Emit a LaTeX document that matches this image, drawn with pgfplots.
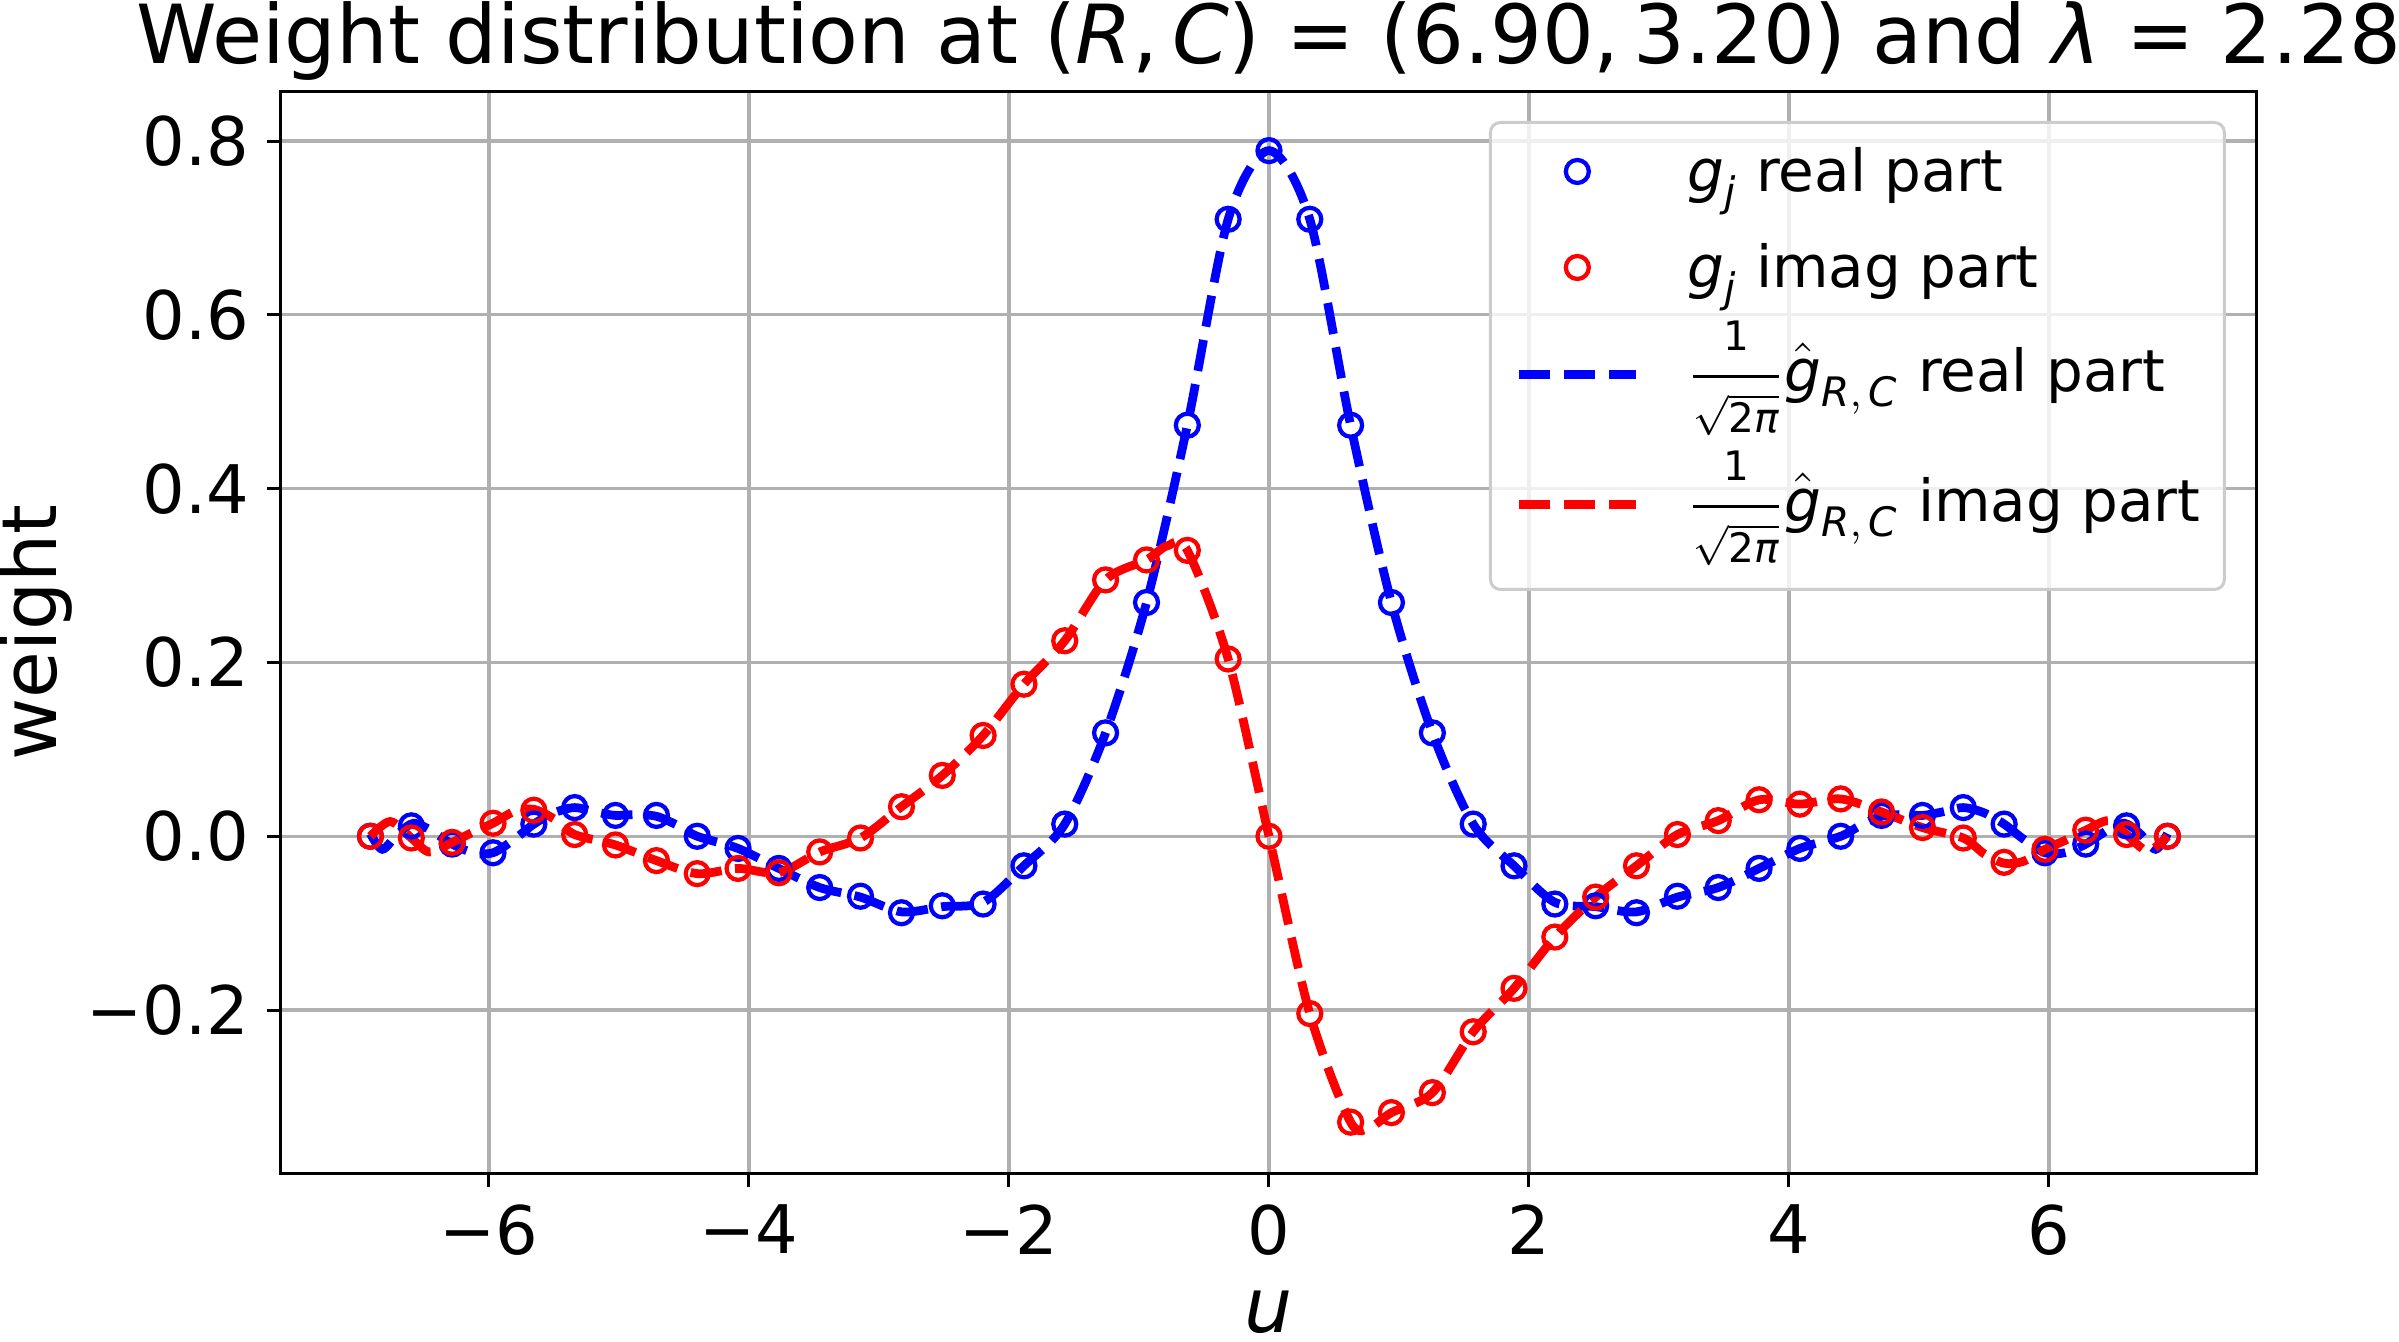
\documentclass[border=0pt]{standalone}
\usepackage{fontspec}
\setmainfont{DejaVu Sans}
\usepackage{amsmath}
\usepackage{pgfplots}
\usepackage{pgfplotstable}
\pgfplotsset{compat=1.18}
\definecolor{gridgray}{HTML}{B0B0B0}
\definecolor{legendgray}{HTML}{CCCCCC}
\pgfplotsset{
  markleg/.style={legend image code/.code={\draw[mark repeat=2,mark phase=2,##1] plot coordinates {(0pt,0pt) (11.7pt,0pt) (23.4pt,0pt)};}},
  lineleg/.style={legend image code/.code={\draw[##1] (0pt,0pt) -- (23.4pt,0pt);}},
}
\newcommand{\gfrac}{\dfrac{\scriptstyle\text{1}}{\scriptstyle\sqrt{\text{2}\textit{π}}}\hat{\textit{g}}_{\textit{R},\,\textit{C}}}

\pgfplotstableread{
u v
-6.912 0.000
-6.597 0.012
-6.283 -0.009
-5.969 -0.019
-5.655 0.014
-5.341 0.033
-5.027 0.024
-4.712 0.024
-4.398 0.000
-4.084 -0.014
-3.770 -0.037
-3.456 -0.059
-3.142 -0.069
-2.827 -0.088
-2.513 -0.080
-2.199 -0.078
-1.885 -0.034
-1.571 0.014
-1.257 0.119
-0.942 0.269
-0.628 0.473
-0.314 0.710
0.000 0.789
0.314 0.710
0.628 0.473
0.942 0.269
1.257 0.119
1.571 0.014
1.885 -0.034
2.199 -0.078
2.513 -0.080
2.827 -0.088
3.142 -0.069
3.456 -0.059
3.770 -0.037
4.084 -0.014
4.398 0.000
4.712 0.024
5.027 0.024
5.341 0.033
5.655 0.014
5.969 -0.019
6.283 -0.009
6.597 0.012
6.912 0.000
}\realpts

\pgfplotstableread{
u v
-6.912 0.000
-6.597 -0.002
-6.283 -0.007
-5.969 0.015
-5.655 0.030
-5.341 0.002
-5.027 -0.010
-4.712 -0.028
-4.398 -0.043
-4.084 -0.037
-3.770 -0.042
-3.456 -0.018
-3.142 -0.002
-2.827 0.034
-2.513 0.070
-2.199 0.116
-1.885 0.175
-1.571 0.225
-1.257 0.295
-0.942 0.318
-0.628 0.329
-0.314 0.204
0.000 0.000
0.314 -0.204
0.628 -0.329
0.942 -0.318
1.257 -0.295
1.571 -0.225
1.885 -0.175
2.199 -0.116
2.513 -0.070
2.827 -0.034
3.142 0.002
3.456 0.018
3.770 0.042
4.084 0.037
4.398 0.043
4.712 0.028
5.027 0.010
5.341 -0.002
5.655 -0.030
5.969 -0.015
6.283 0.007
6.597 0.002
6.912 0.000
}\imagpts

\pgfplotstableread{
u v
-6.912 0.003
-6.82 -0.015
-6.70 0.003
-6.58 0.015
-6.45 0.007
-6.283 -0.009
-6.12 -0.019
-5.969 -0.019
-5.81 -0.004
-5.655 0.014
-5.50 0.027
-5.341 0.033
-5.18 0.028
-5.027 0.024
-4.87 0.025
-4.712 0.023
-4.555 0.013
-4.398 0.000
-4.084 -0.014
-3.770 -0.037
-3.456 -0.059
-3.142 -0.070
-2.827 -0.087
-2.513 -0.081
-2.199 -0.076
-1.885 -0.034
-1.571 0.014
-1.257 0.119
-0.942 0.269
-0.628 0.473
-0.314 0.710
0.000 0.789
0.314 0.710
0.628 0.473
0.942 0.269
1.257 0.119
1.571 0.014
1.885 -0.034
2.199 -0.076
2.513 -0.081
2.827 -0.087
3.142 -0.070
3.456 -0.059
3.770 -0.037
4.084 -0.014
4.398 0.000
4.555 0.013
4.712 0.023
4.87 0.025
5.027 0.024
5.18 0.028
5.341 0.033
5.50 0.027
5.655 0.014
5.81 -0.004
5.969 -0.019
6.12 -0.019
6.283 -0.009
6.45 0.007
6.58 0.015
6.70 0.003
6.82 -0.015
6.912 0.003
}\realcurve

\pgfplotstableread{
u v
-6.912 0.000
-6.76 0.017
-6.597 -0.002
-6.46 -0.018
-6.283 -0.007
-6.12 0.005
-5.969 0.015
-5.80 0.029
-5.655 0.031
-5.50 0.020
-5.341 0.002
-5.027 -0.010
-4.712 -0.028
-4.398 -0.043
-4.084 -0.037
-3.770 -0.042
-3.456 -0.018
-3.142 -0.002
-2.827 0.034
-2.513 0.070
-2.199 0.116
-1.885 0.175
-1.571 0.225
-1.257 0.295
-0.942 0.318
-0.785 0.334
-0.628 0.329
-0.314 0.204
0.000 0.000
0.314 -0.204
0.628 -0.329
0.785 -0.334
0.942 -0.318
1.257 -0.295
1.571 -0.225
1.885 -0.175
2.199 -0.116
2.513 -0.070
2.827 -0.034
3.142 0.002
3.456 0.018
3.770 0.042
4.084 0.037
4.398 0.043
4.712 0.028
5.027 0.010
5.341 -0.002
5.50 -0.020
5.655 -0.031
5.80 -0.029
5.969 -0.015
6.12 -0.005
6.283 0.007
6.46 0.018
6.597 0.002
6.76 -0.017
6.912 0.000
}\imagcurve

\begin{document}
\begin{tikzpicture}
\begin{axis}[
  name=ax, at={(0,0)}, anchor=south west,
  scale only axis, width=395.2pt, height=216.2pt,
  xmin=-7.6, xmax=7.6, ymin=-0.3875, ymax=0.8565,
  xtick={-6,-4,-2,0,2,4,6},
  xticklabels={−6,−4,−2,0,2,4,6},
  ytick={-0.2,0,0.2,0.4,0.6,0.8},
  yticklabels={−0.2,0.0,0.2,0.4,0.6,0.8},
  grid=major, grid style={color=gridgray, line width=0.65pt},
  axis line style={line width=0.6pt},
  tick align=outside, tick pos=left, major tick length=2.8pt,
  tick style={line width=0.6pt, black},
  ticklabel style={font=\fontsize{13.4}{16}\selectfont},
  xlabel={\textit{u}}, ylabel={weight},
  every axis x label/.style={at={(axis description cs:0.5,-0.148)}, anchor=base, inner sep=0pt, font=\fontsize{15.2}{18}\selectfont},
  every axis y label/.style={at={(axis description cs:-0.1134,0.5)}, rotate=90, anchor=base, font=\fontsize{15.2}{18}\selectfont},
  title={Weight distribution at (\textit{R},\,\textit{C}) = (6.90,\,3.20) and \textit{λ} = 2.28},
  every axis title/.style={at={(axis description cs:0.5,1.0268)}, anchor=base, inner sep=0pt, font=\fontsize{16.3}{19}\selectfont},
  legend cell align=left,
  legend style={at={(axis description cs:1,1)}, anchor=north east, xshift=-6.2pt, yshift=-5.8pt,
    draw=legendgray, line width=0.6pt, rounded corners=2pt, fill=white, fill opacity=0.8, text opacity=1,
    font=\fontsize{11.6}{14}\selectfont, inner xsep=4.8pt, inner ysep=1.5pt, row sep=0pt,
    nodes={inner sep=0pt},
    /tikz/every odd column/.append style={column sep=9.4pt}},
]
\addplot[only marks, mark=o, color=blue, mark size=2.3pt, mark options={line width=0.85pt, solid}, markleg]
  table[x=u,y=v] {\realpts};
\addlegendentry[text height=12.3pt, text depth=4.3pt]{$\textit{g}_{\textit{j}}$ real part}
\addplot[only marks, mark=o, color=red, mark size=2.3pt, mark options={line width=0.85pt, solid}, markleg]
  table[x=u,y=v] {\imagpts};
\addlegendentry[text height=14.9pt, text depth=6.9pt]{$\textit{g}_{\textit{j}}$ imag part}
\addplot[color=blue, line width=1.75pt, dash pattern=on 6.3pt off 2.7pt, smooth, no marks, lineleg]
  table[x=u,y=v] {\realcurve};
\addlegendentry[text height=13.9pt, text depth=7.1pt]{$\gfrac$ real part}
\addplot[color=red, line width=1.75pt, dash pattern=on 6.3pt off 2.7pt, smooth, no marks, lineleg]
  table[x=u,y=v] {\imagcurve};
\addlegendentry[text height=18.9pt, text depth=12.1pt]{$\gfrac$ imag part}
\end{axis}
\pgfresetboundingbox
\useasboundingbox (ax.south west) ++(-56.2pt,-33.6pt) rectangle ++(479.8pt,268.2pt);
\end{tikzpicture}
\end{document}
